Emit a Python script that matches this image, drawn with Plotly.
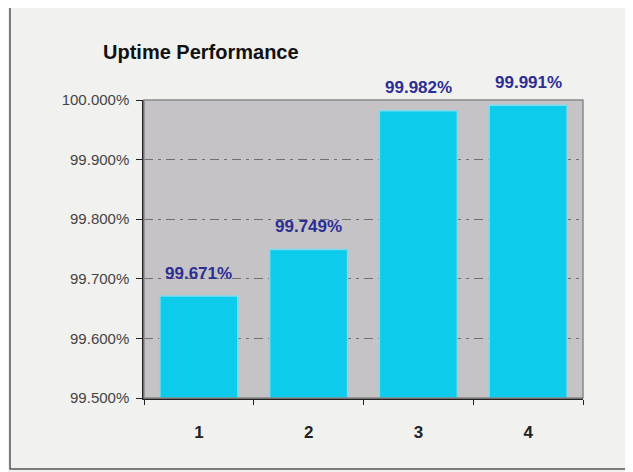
import plotly.graph_objects as go

categories = ["1", "2", "3", "4"]
uptime = [99.671, 99.749, 99.982, 99.991]
labels = ["99.671%", "99.749%", "99.982%", "99.991%"]
y_ticks = [99.5, 99.6, 99.7, 99.8, 99.9, 100.0]
y_tick_labels = ["99.500%", "99.600%", "99.700%", "99.800%", "99.900%", "100.000%"]

OFF = 8  # page body margin
W, H = 633 - OFF, 472 - OFF
L, R, T, B = 144 - OFF, 50, 100 - OFF, 74
pw, ph = W - L - R, H - T - B

def px_x(px):
    return (px - OFF - L) / pw

def px_y(py):
    return (H - B - (py - OFF)) / ph

fig = go.Figure(go.Bar(
    x=categories, y=uptime,
    marker=dict(color="#0dcbea", line=dict(color="#7cdcee", width=1.5)),
    width=0.71,
))

for i, (v, t) in enumerate(zip(uptime, labels)):
    fig.add_annotation(x=i, y=v, text="<b>" + t + "</b>", showarrow=False,
                       yanchor="middle", yshift=23,
                       font=dict(family="Liberation Sans, Arial", size=17, color="#2d2d96"))

fig.update_layout(
    width=W, height=H,
    margin=dict(l=L, r=R, t=T, b=B),
    paper_bgcolor="#f1f1ef", plot_bgcolor="#c5c3c5",
    font=dict(family="Liberation Sans, Arial", color="#222"),
    showlegend=False,
    title=dict(text="<b>Uptime Performance</b>", xref="container", yref="container",
               x=(103 - OFF) / W, xanchor="left", y=1 - (52 - OFF) / H, yanchor="middle",
               font=dict(size=20, color="#111")),
    shapes=[
        dict(type="rect", xref="paper", yref="paper", x0=0, x1=1, y0=0, y1=1,
             line=dict(color="#8a8a8a", width=1.5), layer="above"),
        dict(type="rect", xref="paper", yref="paper",
             x0=px_x(10), x1=px_x(630), y0=px_y(469), y1=px_y(5),
             line=dict(color="#555", width=1.5), layer="below"),
    ],
)
fig.update_yaxes(
    range=[99.5, 100.0], tickvals=y_ticks, ticktext=y_tick_labels,
    ticks="outside", ticklen=6, tickcolor="#222", tickfont=dict(size=15, color="#444"),
    ticklabelstandoff=4,
    showline=True, linecolor="#222", linewidth=1.5,
    showgrid=True, gridcolor="#707070", griddash="9px,5px,3px,5px", gridwidth=1,
    zeroline=False,
)
fig.update_xaxes(
    type="category", range=[-0.5, len(categories) - 0.5],
    tickson="boundaries", ticks="outside", ticklen=5, tickcolor="#222",
    tickfont=dict(size=17, color="#222", family="Liberation Sans, Arial"),
    tickprefix="<b>", ticksuffix="</b>", ticklabelstandoff=18,
    showline=True, linecolor="#222", linewidth=1.5, showgrid=False,
)

fig.write_html("out.html")
